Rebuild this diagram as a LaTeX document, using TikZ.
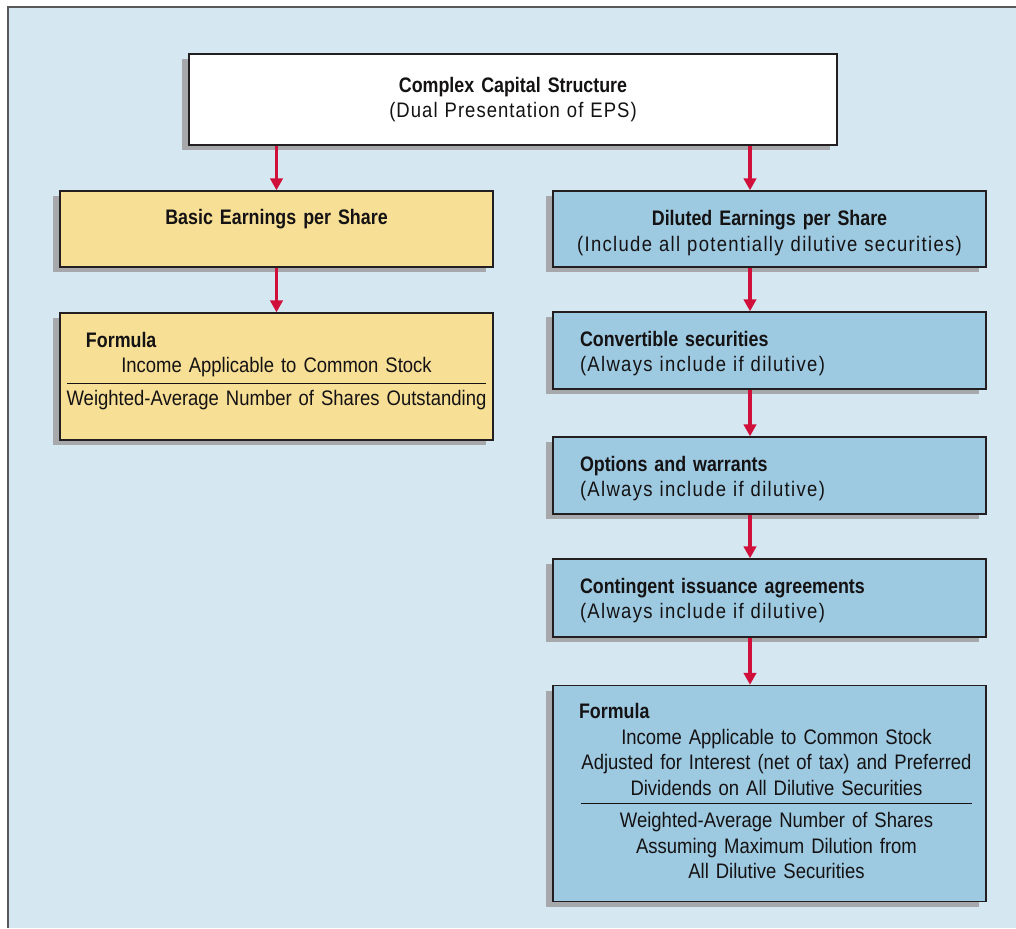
\documentclass[tikz,border=0pt]{standalone}
\usepackage{fontspec}
\setmainfont{Liberation Sans}[UprightFeatures={FakeStretch=0.88}, BoldFeatures={FakeStretch=0.85}]
\usepackage{xcolor}
\usetikzlibrary{arrows.meta,shadows,positioning}

\definecolor{panelblue}{HTML}{D5E7F1}
\definecolor{framegray}{HTML}{58595B}
\definecolor{boxline}{HTML}{231F20}
\definecolor{inkblack}{HTML}{141213}
\definecolor{shadowgray}{HTML}{A6A8AB}
\definecolor{basicyellow}{HTML}{F7DF96}
\definecolor{dilutedblue}{HTML}{9DC9E1}
\definecolor{arrowred}{HTML}{D0103A}

\newdimen\pxu \pxu=0.5pt
\setlength{\arrayrulewidth}{0.6pt}
% tracked sub-lines
\newcommand{\subline}[2][6.3]{{\addfontfeature{LetterSpace=#1}#2}}

\begin{document}
\begin{tikzpicture}[x=0.5pt, y=-0.5pt,
    font=\fontsize{10.5}{12.75}\selectfont,
    % Box styles
    block/.style={rectangle, draw=boxline, line width=0.7pt, inner xsep=0pt, inner ysep=0pt, text width=433\pxu, text=inkblack,
      drop shadow={shadow xshift=-7\pxu, shadow yshift=-5\pxu, fill=shadowgray, opacity=1}},
    basicblock/.style={block, fill=basicyellow},
    dilutedblock/.style={block, fill=dilutedblue},
    stepblock/.style={dilutedblock, text height=34\pxu, text depth=43\pxu, inner xsep=27\pxu, text width=379\pxu, align=left},
    line/.style={draw=arrowred, line width=1.7pt, -{Triangle[length=6pt, width=6.2pt]}}]

    % Panel and frame
    \useasboundingbox (0,0) rectangle (1016,928);
    \fill [white] (0,0) rectangle (1016,928);
    \fill [panelblue] (8,7) rectangle (1016,928);
    \draw [framegray, line width=1pt] (8,928) -- (8,7) -- (1016,7);

    % Node: Complex Capital Structure
    \node [block, fill=white, text width=648\pxu, minimum height=91\pxu, align=center] (capital) at (513,99.5)
      {\textbf{Complex Capital Structure}\\\subline[5]{(Dual Presentation of EPS)}};

    % Node: Basic EPS
    \node [basicblock, align=center, text height=33.5\pxu, text depth=42.5\pxu] (basic) at (276.5,229)
      {\textbf{Basic Earnings per Share}};

    % Node: Diluted EPS
    \node [dilutedblock, right of=basic, node distance=493\pxu, text height=34.5\pxu, text depth=41.5\pxu, align=center] (diluted)
      {\textbf{Diluted Earnings per Share}\\\subline{(Include all potentially dilutive securities)}};

    % Node: Basic formula
    \node [basicblock, below of=basic, node distance=147.5\pxu, text height=34\pxu, text depth=93\pxu] (basicformula)
      {\hspace*{26\pxu}\textbf{Formula}\par
       \centering
       \begin{tabular}[t]{@{}c@{}}
         Income Applicable to Common Stock\\[3\pxu] \hline
         \rule{0pt}{10.5pt}Weighted-Average Number of Shares Outstanding
       \end{tabular}\par};

    % Nodes: dilutive securities
    \node [stepblock, below of=diluted, node distance=121.5\pxu] (convertible)
      {\textbf{Convertible securities}\\\subline{(Always include if dilutive)}};
    \node [stepblock, below of=convertible, node distance=125\pxu] (options)
      {\textbf{Options and warrants}\\\subline{(Always include if dilutive)}};
    \node [stepblock, below of=options, node distance=122.5\pxu, text depth=44\pxu] (contingent)
      {\textbf{Contingent issuance agreements}\\\subline{(Always include if dilutive)}};

    % Node: Diluted formula
    \node [dilutedblock, below of=contingent, node distance=195.5\pxu, text height=33\pxu, text depth=183\pxu] (dilutedformula)
      {\hspace*{26\pxu}\textbf{Formula}\par
       \centering\hspace*{14\pxu}%
       \begin{tabular}[t]{@{}c@{}}
         Income Applicable to Common Stock\\
         Adjusted for Interest (net of tax) and Preferred\\
         Dividends on All Dilutive Securities\\ \hline
         \rule{0pt}{12pt}Weighted-Average Number of Shares\\
         Assuming Maximum Dilution from\\
         All Dilutive Securities
       \end{tabular}\par};

    % Edges
    \coordinate (spine) at (750,0);
    \path [line] (capital.south -| basic) -- (basic.north);
    \path [line] (basic.south) -- (basicformula.north);
    \path [line] (capital.south -| spine) -- (diluted.north -| spine);
    \path [line] (diluted.south -| spine) -- (convertible.north -| spine);
    \path [line] (convertible.south -| spine) -- (options.north -| spine);
    \path [line] (options.south -| spine) -- (contingent.north -| spine);
    \path [line] (contingent.south -| spine) -- (dilutedformula.north -| spine);

\end{tikzpicture}
\end{document}
